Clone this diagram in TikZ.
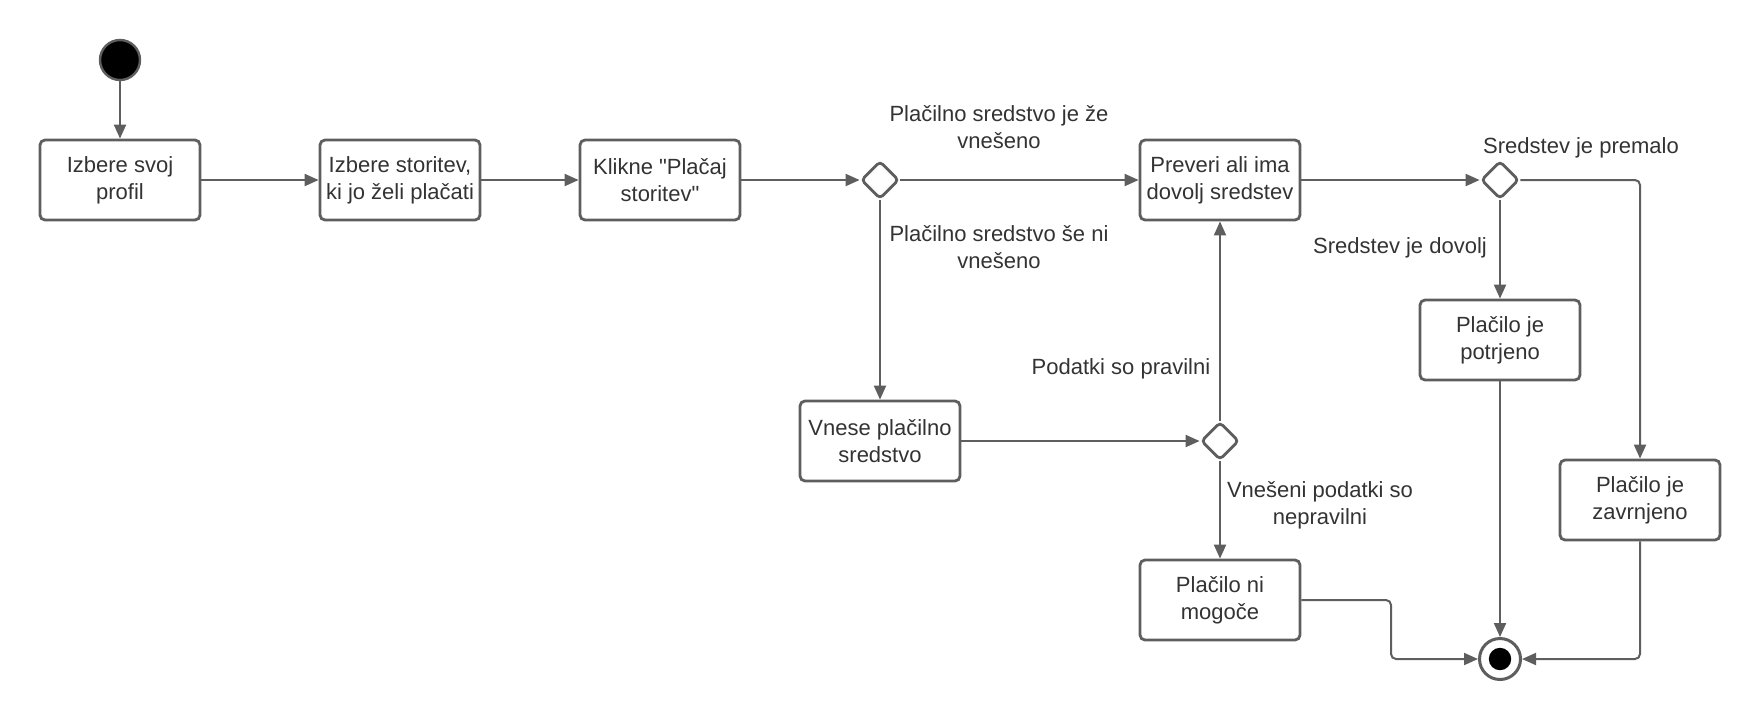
\documentclass[tikz,border=0pt]{standalone}
\usepackage{fontspec}
\setmainfont{Liberation Sans}
\usepackage{xcolor}
\usetikzlibrary{shapes.geometric,arrows.meta,positioning}
\definecolor{LineGray}{RGB}{94,94,94}
\definecolor{TextGray}{RGB}{51,51,51}
\newcommand\ravninarek{\XeTeXglyph\XeTeXcharglyph"22\relax}
\tikzset{
  actbox/.style={draw=LineGray,fill=white,rounded corners=2.5pt,
                 minimum width=80pt,minimum height=40pt,inner sep=1pt,
                 font=\fontsize{11}{13.5}\selectfont,text=TextGray,
                 align=center,line width=1.4pt},
  decision/.style={draw=LineGray,fill=white,diamond,aspect=1,
                   minimum width=19pt,minimum height=19pt,inner sep=0pt,
                   rounded corners=2pt,line width=1.4pt},
  startnode/.style={circle,draw=LineGray,fill=black,line width=1.2pt,
                    minimum size=20pt,inner sep=0pt},
  endnode/.style={circle,draw=LineGray,fill=white,line width=1.5pt,
                  minimum size=20.5pt,inner sep=0pt,
                  path picture={\fill[black] (path picture bounding box.center) circle (5.6pt);}},
  lbl/.style={font=\fontsize{11}{13.5}\selectfont,text=TextGray,align=center,inner sep=1pt},
  arr/.style={-{Triangle[length=7pt,width=6pt]},LineGray,line width=1pt,rounded corners=2.5pt},
}
\begin{document}
\begin{tikzpicture}[x=0.5pt,y=-0.5pt]
    \useasboundingbox (0,0) rectangle (1760,720);

    % aktivnosti
    \node[startnode] (start) at (120,60) {};
    \node[actbox] (profil) at (120,180) {Izbere svoj\\profil};
    \node[actbox] (storitev) at (400,180) {Izbere storitev,\\ki jo želi plačati};
    \node[actbox] (klikne) at (660,180) {Klikne \ravninarek Plačaj\\storitev\ravninarek};
    \node[decision] (odl1) at (880,180) {};
    \node[actbox] (preveri) at (1220,180) {Preveri ali ima\\dovolj sredstev};
    \node[decision] (odl2) at (1500,180) {};
    \node[actbox] (potrjeno) at (1500,340) {Plačilo je\\potrjeno};
    \node[actbox] (zavrnjeno) at (1640,500) {Plačilo je\\zavrnjeno};
    \node[actbox] (vnese) at (880,441) {Vnese plačilno\\sredstvo};
    \node[decision] (odl3) at (1220,441) {};
    \node[actbox] (nimogoce) at (1220,600) {Plačilo ni\\mogoče};
    \node[endnode] (konec) at (1500,659) {};
    \coordinate (knik) at (1391,600);

    % pogoji
    \node[lbl] (lzevneseno) at (999,127) {Plačilno sredstvo je že\\vnešeno};
    \node[lbl] (lnivneseno) at (999,247) {Plačilno sredstvo še ni\\vnešeno};
    \node[lbl] (lpravilni) at (1121,369) {Podatki so pravilni};
    \node[lbl] (lnepravilni) at (1320,505) {Vnešeni podatki so\\nepravilni};
    \node[lbl] (ldovolj) at (1400,248) {Sredstev je dovolj};
    \node[lbl] (lpremalo) at (1581,148) {Sredstev je premalo};

    \draw[arr] (start) -- (profil);
    \draw[arr] (profil) -- (storitev);
    \draw[arr] (storitev) -- (klikne);
    \draw[arr] (klikne) -- (odl1);
    \draw[arr] (odl1) -- (preveri);
    \draw[arr] (odl1) -- (vnese);
    \draw[arr] (vnese) -- (odl3);
    \draw[arr] (odl3) -- (preveri);
    \draw[arr] (odl3) -- (nimogoce);
    \draw[arr] (preveri) -- (odl2);
    \draw[arr] (odl2) -- (potrjeno);
    \draw[arr] (odl2) -| (zavrnjeno);
    \draw[arr] (potrjeno) -- (konec);
    \draw[arr] (zavrnjeno) |- (konec);
    \draw[arr] (nimogoce) -- (knik) |- (konec);
\end{tikzpicture}
\end{document}
